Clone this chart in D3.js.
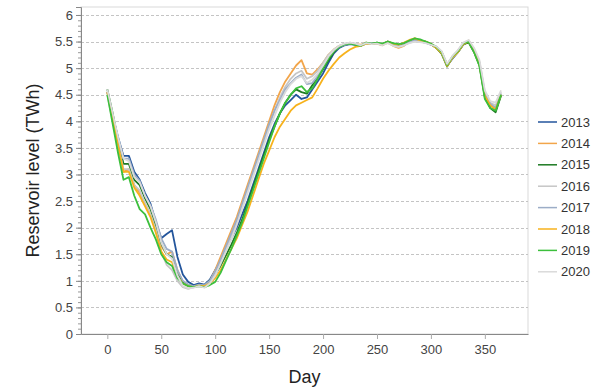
<!DOCTYPE html>
<html>
<head>
<meta charset="utf-8">
<script src="https://cdn.jsdelivr.net/npm/d3@7"></script>
<style>
  body { margin: 0; background: #fff; }
  svg text { font-family: "Liberation Sans", Arial, sans-serif; }
</style>
</head>
<body>
<div id="chart"></div>
<script>
// reservoir level (TWh), one value every 5 days from day 0 to 365
const years = ["2013", "2014", "2015", "2016", "2017", "2018", "2019", "2020"];
const colors = ["#23559c", "#f2a54a", "#1d7a22", "#c6c6c6", "#9cadc7", "#f7b21c", "#3cbf3c", "#dadada"];
const stepDays = 5;

const y2013 = [4.55, 4.1, 3.7, 3.35, 3.35, 3.05, 2.9, 2.65, 2.45, 2.1, 1.8, 1.88, 1.95, 1.45, 1.12, 0.98, 0.92, 0.95, 0.93, 1.02,
  1.2, 1.38, 1.6, 1.8, 2.0, 2.25, 2.5, 2.8, 3.1, 3.4, 3.7, 3.95, 4.15, 4.3, 4.4, 4.5, 4.42, 4.45, 4.6, 4.75,
  4.9, 5.1, 5.28, 5.38, 5.43, 5.45, 5.44, 5.42, 5.47, 5.46, 5.47, 5.44, 5.5, 5.44, 5.42, 5.44, 5.48, 5.53, 5.5, 5.48,
  5.44, 5.4, 5.28, 5.05, 5.18, 5.3, 5.44, 5.5, 5.33, 5.08, 4.5, 4.32, 4.22, 4.5];
const y2014 = [4.55, 4.05, 3.6, 3.05, 3.1, 2.8, 2.65, 2.45, 2.25, 2.0, 1.65, 1.5, 1.55, 1.2, 0.98, 0.9, 0.88, 0.92, 0.9, 0.98,
  1.2, 1.45, 1.7, 1.95, 2.2, 2.5, 2.8, 3.1, 3.4, 3.7, 4.0, 4.3, 4.55, 4.75, 4.9, 5.05, 5.15, 4.9, 4.88, 4.98,
  5.1, 5.25, 5.35, 5.42, 5.45, 5.47, 5.45, 5.44, 5.48, 5.45, 5.46, 5.43, 5.48, 5.42, 5.38, 5.42, 5.5, 5.56, 5.52, 5.5,
  5.46, 5.38, 5.3, 5.06, 5.2, 5.32, 5.45, 5.52, 5.35, 5.1, 4.48, 4.3, 4.25, 4.5];
const y2015 = [4.6, 4.15, 3.65, 3.2, 3.2, 2.9, 2.8, 2.55, 2.35, 2.05, 1.7, 1.5, 1.45, 1.12, 0.98, 0.92, 0.9, 0.92, 0.91, 1.0,
  1.12, 1.28, 1.48, 1.68, 1.9, 2.15, 2.45, 2.75, 3.05, 3.35, 3.65, 3.9, 4.15, 4.35, 4.5, 4.6, 4.55, 4.52, 4.68, 4.82,
  4.98, 5.15, 5.3, 5.4, 5.44, 5.46, 5.45, 5.42, 5.47, 5.45, 5.48, 5.45, 5.5, 5.46, 5.43, 5.46, 5.5, 5.55, 5.52, 5.5,
  5.45, 5.38, 5.27, 5.03, 5.2, 5.3, 5.45, 5.48, 5.3, 5.05, 4.45, 4.25, 4.17, 4.48];
const y2016 = [4.5, 4.0, 3.55, 3.1, 3.1, 2.8, 2.7, 2.45, 2.25, 1.95, 1.55, 1.3, 1.2, 1.0, 0.88, 0.85, 0.88, 0.9, 0.88, 0.97,
  1.15, 1.35, 1.6, 1.85, 2.1, 2.4, 2.7, 3.0, 3.3, 3.6, 3.9, 4.2, 4.45, 4.65, 4.8, 4.9, 4.95, 4.8, 4.85, 4.95,
  5.1, 5.25, 5.35, 5.42, 5.46, 5.48, 5.46, 5.43, 5.48, 5.46, 5.47, 5.44, 5.49, 5.43, 5.4, 5.43, 5.48, 5.5, 5.5, 5.48,
  5.44, 5.4, 5.3, 5.07, 5.22, 5.33, 5.47, 5.52, 5.36, 5.12, 4.55, 4.35, 4.3, 4.55];
const y2017 = [4.55, 4.1, 3.65, 3.3, 3.3, 3.0, 2.88, 2.6, 2.42, 2.15, 1.8, 1.6, 1.55, 1.2, 1.0, 0.93, 0.9, 0.93, 0.92, 1.0,
  1.18, 1.4, 1.65, 1.9, 2.15, 2.45, 2.75, 3.05, 3.35, 3.65, 3.95, 4.2, 4.4, 4.6, 4.72, 4.82, 4.88, 4.7, 4.72, 4.85,
  5.02, 5.2, 5.32, 5.4, 5.44, 5.46, 5.45, 5.42, 5.46, 5.45, 5.47, 5.44, 5.49, 5.44, 5.41, 5.44, 5.49, 5.53, 5.51, 5.49,
  5.45, 5.39, 5.29, 5.05, 5.19, 5.31, 5.46, 5.51, 5.34, 5.1, 4.52, 4.33, 4.25, 4.52];
const y2018 = [4.55, 4.05, 3.55, 3.05, 3.05, 2.75, 2.6, 2.4, 2.2, 1.9, 1.55, 1.4, 1.35, 1.08, 0.95, 0.9, 0.88, 0.91, 0.9, 0.95,
  1.05, 1.2, 1.4, 1.6, 1.8, 2.05, 2.3, 2.6, 2.9, 3.2, 3.45, 3.7, 3.9, 4.05, 4.2, 4.3, 4.35, 4.4, 4.45, 4.62,
  4.8, 4.95, 5.08, 5.2, 5.28, 5.35, 5.4, 5.42, 5.46, 5.45, 5.47, 5.45, 5.5, 5.46, 5.44, 5.48, 5.53, 5.56, 5.52, 5.5,
  5.45, 5.38, 5.28, 5.04, 5.2, 5.3, 5.45, 5.5, 5.32, 5.06, 4.48, 4.3, 4.22, 4.5];
const y2019 = [4.5, 3.95, 3.4, 2.9, 2.95, 2.6, 2.35, 2.25, 2.0, 1.78, 1.5, 1.35, 1.28, 1.05, 0.95, 0.9, 0.88, 0.9, 0.88, 0.92,
  0.98, 1.15, 1.38, 1.6, 1.85, 2.1, 2.4, 2.7, 3.0, 3.3, 3.6, 3.9, 4.15, 4.35, 4.5, 4.62, 4.66, 4.55, 4.62, 4.8,
  5.0, 5.18, 5.32, 5.4, 5.45, 5.46, 5.44, 5.42, 5.48, 5.46, 5.48, 5.46, 5.5, 5.47, 5.45, 5.47, 5.52, 5.56, 5.54, 5.5,
  5.46, 5.4, 5.3, 5.06, 5.22, 5.32, 5.47, 5.5, 5.3, 5.04, 4.42, 4.25, 4.2, 4.5];
const y2020 = [4.6, 4.15, 3.7, 3.3, 3.25, 2.95, 2.85, 2.6, 2.4, 2.1, 1.72, 1.5, 1.42, 1.1, 0.9, 0.86, 0.87, 0.9, 0.87, 0.95,
  1.1, 1.32, 1.55, 1.78, 2.05, 2.35, 2.65, 2.95, 3.25, 3.55, 3.85, 4.1, 4.35, 4.55, 4.7, 4.8, 4.85, 4.72, 4.78, 4.9,
  5.05, 5.22, 5.34, 5.42, 5.46, 5.48, 5.46, 5.43, 5.47, 5.45, 5.46, 5.43, 5.47, 5.42, 5.4, 5.43, 5.47, 5.5, 5.49, 5.47,
  5.44, 5.41, 5.32, 5.08, 5.23, 5.34, 5.48, 5.53, 5.38, 5.15, 4.58, 4.38, 4.35, 4.58];

const seriesValues = [y2013, y2014, y2015, y2016, y2017, y2018, y2019, y2020];
const xTicks = [0, 50, 100, 150, 200, 250, 300, 350];
const yTicks = [0, 0.5, 1, 1.5, 2, 2.5, 3, 3.5, 4, 4.5, 5, 5.5, 6];

const width = 607;
const height = 388;
const margin = { top: 7, right: 79, bottom: 54, left: 81 };
const innerW = width - margin.left - margin.right;
const innerH = height - margin.top - margin.bottom;

const svg = d3.select("#chart").append("svg")
  .attr("width", width)
  .attr("height", height);

const g = svg.append("g")
  .attr("transform", "translate(" + margin.left + "," + margin.top + ")");

const x = d3.scaleLinear().domain([-24.4, 390]).range([0, innerW]);
const y = d3.scaleLinear().domain([0, 6.15]).range([innerH, 0]);

// frame (top / right)
g.append("rect")
  .attr("width", innerW)
  .attr("height", innerH)
  .attr("fill", "none")
  .attr("stroke", "#d9d9d9");

// dashed gridlines
g.append("g")
  .selectAll("line")
  .data(yTicks.filter(d => d > 0))
  .join("line")
  .attr("x1", 0)
  .attr("x2", innerW)
  .attr("y1", d => Math.round(y(d)) + 0.5)
  .attr("y2", d => Math.round(y(d)) + 0.5)
  .attr("stroke", "#c4c4c4")
  .attr("stroke-dasharray", "3,2");

// minor ticks on y axis
const yMinor = g.append("g")
  .call(d3.axisLeft(y).tickValues(d3.range(0, 61).map(d => d / 10)).tickSize(3).tickFormat(""));
yMinor.select(".domain").remove();
yMinor.selectAll("line").attr("stroke", "#999");

const yAxis = g.append("g")
  .call(d3.axisLeft(y).tickValues(yTicks).tickSize(5).tickPadding(3).tickFormat(d3.format("")));
yAxis.select(".domain").attr("stroke", "#888");
yAxis.selectAll("line").attr("stroke", "#888");
yAxis.selectAll("text").attr("font-size", "13px").attr("fill", "#444");

const xAxis = g.append("g")
  .attr("transform", "translate(0," + innerH + ")")
  .call(d3.axisBottom(x).tickValues(xTicks).tickSize(5).tickSizeOuter(0).tickPadding(6));
xAxis.select(".domain").attr("stroke", "#888");
xAxis.selectAll("line").attr("stroke", "#aaa");
xAxis.selectAll("text").attr("font-size", "13px").attr("fill", "#444");

// series lines
const line = d3.line()
  .x((d, i) => x(i * stepDays))
  .y(d => y(d));

g.append("g")
  .selectAll("path")
  .data(seriesValues)
  .join("path")
  .attr("fill", "none")
  .attr("stroke", (d, i) => colors[i])
  .attr("stroke-width", 1.8)
  .attr("stroke-linejoin", "round")
  .attr("d", d => line(d));

// axis titles
svg.append("text")
  .attr("x", margin.left + innerW / 2)
  .attr("y", 383)
  .attr("text-anchor", "middle")
  .attr("font-size", "18px")
  .attr("fill", "#222")
  .text("Day");

svg.append("text")
  .attr("transform", "translate(39," + (margin.top + innerH / 2) + ") rotate(-90)")
  .attr("text-anchor", "middle")
  .attr("font-size", "18px")
  .attr("fill", "#222")
  .text("Reservoir level (TWh)");

// legend
const legend = svg.append("g")
  .attr("transform", "translate(538,122)");

const item = legend.selectAll("g")
  .data(years)
  .join("g")
  .attr("transform", (d, i) => "translate(0," + i * 21.4 + ")");

item.append("line")
  .attr("x1", 0)
  .attr("x2", 19)
  .attr("stroke", (d, i) => colors[i])
  .attr("stroke-width", 1.5);

item.append("text")
  .attr("x", 23)
  .attr("dy", "0.35em")
  .attr("font-size", "13px")
  .attr("fill", "#333")
  .text(d => d);
</script>
</body>
</html>
